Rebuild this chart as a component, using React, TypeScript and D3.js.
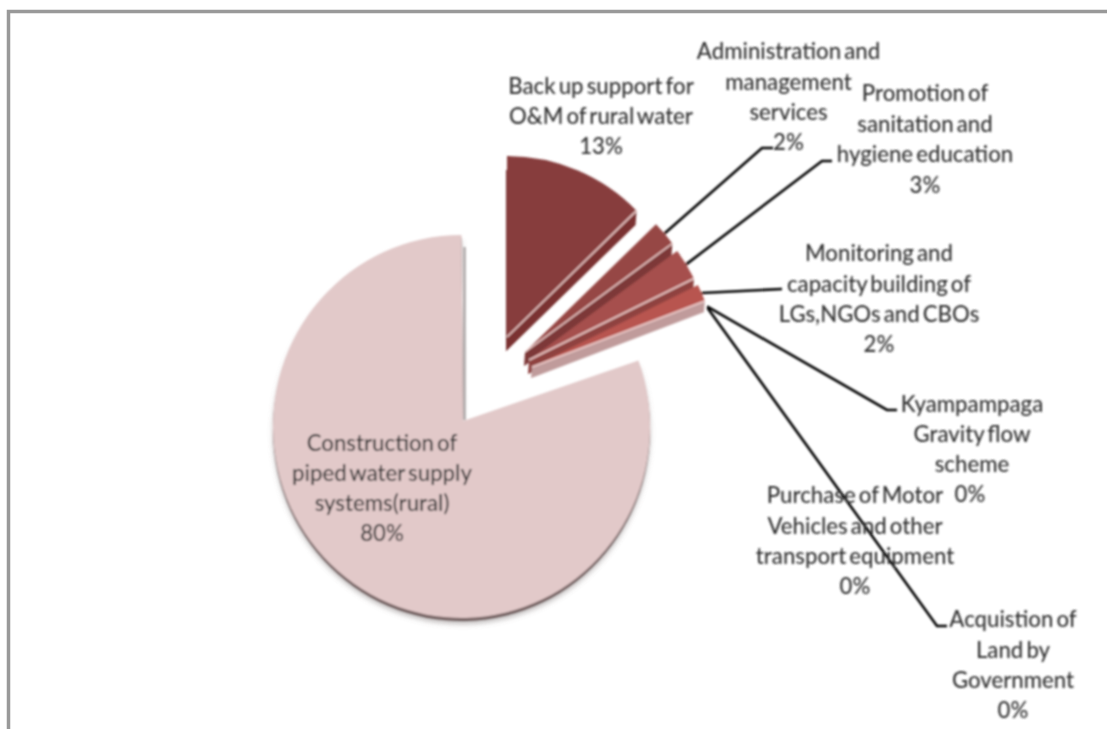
import React from "react";
import * as d3 from "d3";

const categories = [
  "Back up support for O&M of rural water",
  "Administration and management services",
  "Promotion of sanitation and hygiene education",
  "Monitoring and capacity building of LGs,NGOs and CBOs",
  "Kyampampaga Gravity flow scheme",
  "Purchase of Motor Vehicles and other transport equipment",
  "Acquistion of Land by Government",
  "Construction of piped water supply systems(rural)",
];
const shares = [12.7, 2.2, 2.8, 1.5, 0.07, 0.07, 0.06, 80.6];
const percentLabels = ["13%", "2%", "3%", "2%", "0%", "0%", "0%", "80%"];
const labelLines = [
  ["Back up support for", "O&M of rural water"],
  ["Administration and", "management", "services"],
  ["Promotion of", "sanitation and", "hygiene education"],
  ["Monitoring and", "capacity building of", "LGs,NGOs and CBOs"],
  ["Kyampampaga", "Gravity flow", "scheme"],
  ["Purchase of Motor", "Vehicles and other", "transport equipment"],
  ["Acquistion of", "Land by", "Government"],
  ["Construction of", "piped water supply", "systems(rural)"],
];

// layout
const labelX = [601, 788.5, 925, 879, 972, 855, 1013, 382];
const labelY = [86, 51, 93, 253, 404, 495, 619, 443];
const lineGap = [30, 30.5, 30.5, 30.5, 30, 30.5, 30.5, 30];
const pctX = [601, 788.5, 925, 879, 970, 855, 1013, 382];
const pctY = [146, 142, 185, 344, 494, 586, 710, 533];
const apexX = [507, 525, 529, 532, 534, 534, 534, 463];
const apexY = [337, 352, 360, 367, 372, 372, 372, 421];
const radii = [181, 183, 184, 185, 185, 185, 185, 190];
const depths = [14, 14, 14, 11, 11, 11, 11, 3];
const faceColors = ["#873e3e", "#964644", "#a6504e", "#b8554f", "#b8554f", "#b8554f", "#b8554f", "#e2c9c9"];
const sideColors = ["#7a3231", "#7d3837", "#8f4240", "#c09b9b", "#c09b9b", "#c09b9b", "#c09b9b", "#6d5a5a"];
const elbows: (number[] | null)[] = [null, [762, 148, 773, 148], [822, 161, 832, 161], [782, 289, 782, 289], [887, 410, 897, 410], null, [937, 626, 947, 626], null];

const ellipse = { cx: 461.5, cy: 426.5, rx: 188.5, ry: 191.5 };
const FONT = "Lato, 'Open Sans', sans-serif";

export default function App() {
  const slices = d3.pie<number>().sort(null).startAngle(0).endAngle(2 * Math.PI)(shares);
  const arc = d3.arc<d3.PieArcDatum<number>>().innerRadius(0);

  const big = slices[7];
  const p0x = ellipse.cx + ellipse.rx * Math.sin(big.startAngle);
  const p0y = ellipse.cy - ellipse.ry * Math.cos(big.startAngle);
  const bigPath = `M${apexX[7]},${apexY[7]}L${p0x},${p0y}A${ellipse.rx},${ellipse.ry} 0 1 1 ${ellipse.cx},${ellipse.cy - ellipse.ry}Z`;

  const wedge = slices.slice(0, 4).map((s, i) => {
    const r = radii[i];
    const ex = apexX[i] + r * Math.sin(s.endAngle);
    const ey = apexY[i] - r * Math.cos(s.endAngle);
    return { s, i, r, ex, ey, d: arc.outerRadius(r)(s) as string };
  });

  const leaders = slices.map((s, i) => {
    const e = elbows[i];
    if (!e) return null;
    const mid = (s.startAngle + s.endAngle) / 2;
    const x = apexX[i] + radii[i] * Math.sin(mid);
    const y = apexY[i] - radii[i] * Math.cos(mid);
    return d3.line()([[x, y], [e[0], e[1]], [e[2], e[3]]]) as string;
  });

  return (
    <svg width={1107} height={729} style={{ position: "absolute", left: 0, top: 0, background: "#fff" }}>
      <defs>
        <filter id="soft" filterUnits="userSpaceOnUse" x={0} y={0} width={1107} height={729}>
          <feGaussianBlur stdDeviation="1" />
        </filter>
        <filter id="shadow" filterUnits="userSpaceOnUse" x={0} y={0} width={1107} height={729}>
          <feGaussianBlur stdDeviation="2.4" />
        </filter>
      </defs>
      <path d="M8.5,729V11.5H1107" fill="none" stroke="#999" strokeWidth={3.5} />
      <g filter="url(#soft)">
        {/* construction slice */}
        <path d={bigPath} transform="translate(0,6)" fill="#8d8585" opacity={0.55} filter="url(#shadow)" />
        <path d={bigPath} transform="translate(0,3)" fill={sideColors[7]} />
        <path d={bigPath} fill={faceColors[7]} />
        <line x1={apexX[7] + 1.5} x2={apexX[7] + 1.5} y1={247} y2={apexY[7] - 1} stroke="#a9a3a3" strokeWidth={2.4} />
        {/* exploded slices */}
        {wedge.map(({ s, i, ex, ey, d }) => (
          <g key={categories[i]}>
            <g transform={`translate(${apexX[i]},${apexY[i]})`}>
              <path d={d} transform={`translate(-1,${depths[i]})`} fill={sideColors[i]} />
              <polygon
                points={[[0, 0], [ex - apexX[i], ey - apexY[i]], [ex - apexX[i] - 1, ey - apexY[i] + depths[i]], [-1, depths[i]]].join(" ")}
                fill={sideColors[i]}
              />
              <path d={d} fill={faceColors[i]} />
            </g>
            <line x1={apexX[i]} y1={apexY[i]} x2={ex} y2={ey} stroke="#f0d0ce" strokeWidth={1.5} />
          </g>
        ))}
        {/* leaders */}
        {leaders.map((d, i) => d && <path key={i} d={d} fill="none" stroke="#000" strokeWidth={2.6} />)}
        {/* labels */}
        <g fontFamily={FONT} fontSize={22.2} fontWeight={500} fill="#333" textAnchor="middle">
          {labelLines.map((lines, i) => (
            <g key={categories[i]}>
              {lines.map((t, j) => (
                <text key={t} x={labelX[i]} y={labelY[i] + 8 + j * lineGap[i]} wordSpacing={-2.5}>{t}</text>
              ))}
              <text x={pctX[i]} y={pctY[i] + 8}>{percentLabels[i]}</text>
            </g>
          ))}
        </g>
      </g>
    </svg>
  );
}
